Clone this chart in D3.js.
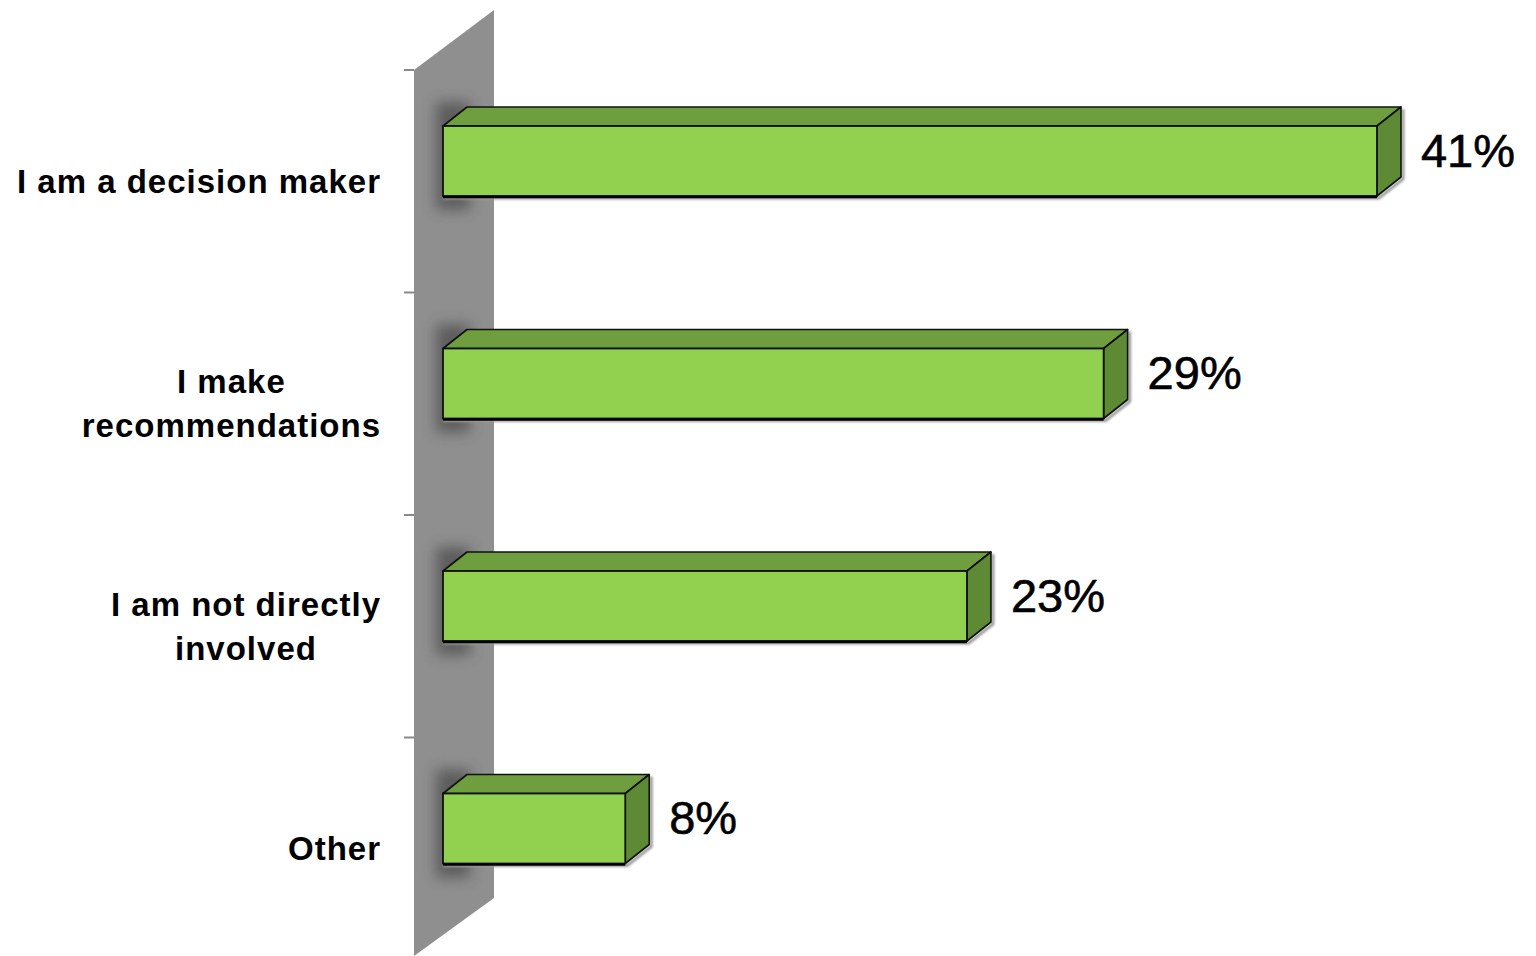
<!DOCTYPE html>
<html>
<head>
<meta charset="utf-8">
<script src="https://cdn.jsdelivr.net/npm/d3@7"></script>
<style>
  html, body { margin: 0; padding: 0; background: #ffffff; }
  svg { display: block; }
</style>
</head>
<body>
<svg id="chart" width="1536" height="956"></svg>
<script>
// Survey: role in purchase decisions (share of respondents, %)
const categories = [
  "I am a decision maker",
  "I make\nrecommendations",
  "I am not directly\ninvolved",
  "Other"
];
const values = [41, 29, 23, 8];
const valueLabels = ["41%", "29%", "23%", "8%"];

const svg = d3.select("#chart");
const W = 1536, H = 956;

// 3D depth of the bars and of the back wall
const depthX = 24, depthY = -19;
const wallLeft = 414, wallDepthX = 80, wallDepthY = -60;

const x = d3.scaleLinear().domain([0, 50]).range([443, 443 + 50 * 22.78]);
const y = d3.scaleBand().domain(categories).range([70, 960]).paddingInner(0).paddingOuter(0);
const barOffset = 56, barH = 70;

const defs = svg.append("defs");
defs.append("filter").attr("id", "blurShadow")
  .attr("x", "-50%").attr("y", "-50%").attr("width", "200%").attr("height", "200%")
  .append("feGaussianBlur").attr("stdDeviation", 7);
defs.append("filter").attr("id", "softEdge")
  .attr("x", "-10%").attr("y", "-50%").attr("width", "120%").attr("height", "200%")
  .append("feGaussianBlur").attr("stdDeviation", 1.2);

// Back wall (vertical axis plane)
const wallTop = y.range()[0], wallBottom = H;
const wallPts = [
  [wallLeft, wallTop],
  [wallLeft + wallDepthX, wallTop + wallDepthY],
  [wallLeft + wallDepthX, wallBottom + wallDepthY + 2],
  [wallLeft, wallBottom]
];
defs.append("clipPath").attr("id", "wallClip")
  .append("polygon").attr("points", wallPts.map(p => p.join(",")).join(" "));

svg.append("polygon")
  .attr("points", wallPts.map(p => p.join(",")).join(" "))
  .attr("fill", "#8f8f8f");

// Shadows cast by the bars onto the wall
const shadowG = svg.append("g").attr("clip-path", "url(#wallClip)");
shadowG.selectAll("rect")
  .data(categories)
  .join("rect")
  .attr("x", 436)
  .attr("y", d => y(d) + barOffset - 24)
  .attr("width", 34)
  .attr("height", barH + 38)
  .attr("fill", "#3a3a3a")
  .attr("opacity", 0.6)
  .attr("filter", "url(#blurShadow)");

// Category tick marks on the axis
const tickPos = categories.map(c => y(c));
svg.selectAll("line.tick")
  .data(tickPos)
  .join("line")
  .attr("class", "tick")
  .attr("x1", wallLeft - 10).attr("x2", wallLeft)
  .attr("y1", d => d).attr("y2", d => d)
  .attr("stroke", "#8a8a8a").attr("stroke-width", 2);

// Bars
const bars = svg.selectAll("g.bar")
  .data(categories.map((c, i) => ({ c, v: values[i], label: valueLabels[i] })))
  .join("g").attr("class", "bar");

bars.each(function(d) {
  const g = d3.select(this);
  const x0 = x(0), x1 = x(d.v);
  const top = y(d.c) + barOffset, bot = top + barH;

  // soft gray drop shadow below / right of the bar
  g.append("polyline")
    .attr("points", [[x0, bot + 2], [x1 + 2, bot + 2], [x1 + depthX + 2, bot + depthY + 2], [x1 + depthX + 2, top + depthY + 2]].map(p => p.join(",")).join(" "))
    .attr("fill", "none").attr("stroke", "#9a9a9a").attr("stroke-width", 3)
    .attr("filter", "url(#softEdge)");
  // gray line along the back edge of the top face
  g.append("line")
    .attr("x1", x0 + depthX).attr("x2", x1 + depthX)
    .attr("y1", top + depthY - 2).attr("y2", top + depthY - 2)
    .attr("stroke", "#8f8f8f").attr("stroke-width", 2)
    .attr("filter", "url(#softEdge)");

  // top face
  g.append("polygon")
    .attr("points", [[x0, top], [x0 + depthX, top + depthY], [x1 + depthX, top + depthY], [x1, top]].map(p => p.join(",")).join(" "))
    .attr("fill", "#6f9e3e").attr("stroke", "#111").attr("stroke-width", 1.6).attr("stroke-linejoin", "round");
  // side face
  g.append("polygon")
    .attr("points", [[x1, top], [x1 + depthX, top + depthY], [x1 + depthX, bot + depthY], [x1, bot]].map(p => p.join(",")).join(" "))
    .attr("fill", "#5e8a35").attr("stroke", "#111").attr("stroke-width", 1.6).attr("stroke-linejoin", "round");
  // front face
  g.append("rect")
    .attr("x", x0).attr("y", top).attr("width", x1 - x0).attr("height", barH)
    .attr("fill", "#92d050").attr("stroke", "#111").attr("stroke-width", 1.8);
  // heavier bottom edge
  g.append("line")
    .attr("x1", x0).attr("x2", x1).attr("y1", bot + 1).attr("y2", bot + 1)
    .attr("stroke", "#000").attr("stroke-width", 2.5);

  // value label
  g.append("text")
    .attr("x", x1 + depthX + 20)
    .attr("y", top + 24)
    .attr("dominant-baseline", "central")
    .attr("font-family", "Arial, 'Liberation Sans', sans-serif")
    .attr("font-size", 47)
    .attr("fill", "#000")
    .attr("stroke", "#000").attr("stroke-width", 0.6)
    .text(d.label);
});

// Category labels, wrapped lines centred within a right-aligned block
const labelRight = 381, lineH = 44;
svg.selectAll("g.cat")
  .data(categories)
  .join("g").attr("class", "cat")
  .each(function(c) {
    const g = d3.select(this);
    const lines = c.split("\n");
    const cy = y(c) + y.bandwidth() / 2;
    const texts = lines.map((ln, i) =>
      g.append("text")
        .attr("y", cy + (i - (lines.length - 1) / 2) * lineH)
        .attr("dominant-baseline", "central")
        .attr("text-anchor", "middle")
        .attr("font-family", "Arial, 'Liberation Sans', sans-serif")
        .attr("font-weight", "bold")
        .attr("font-size", 33)
        .attr("letter-spacing", 1)
        .attr("fill", "#000")
        .text(ln)
    );
    const maxW = d3.max(texts, t => t.node().getComputedTextLength());
    texts.forEach(t => t.attr("x", labelRight - maxW / 2));
  });
</script>
</body>
</html>
